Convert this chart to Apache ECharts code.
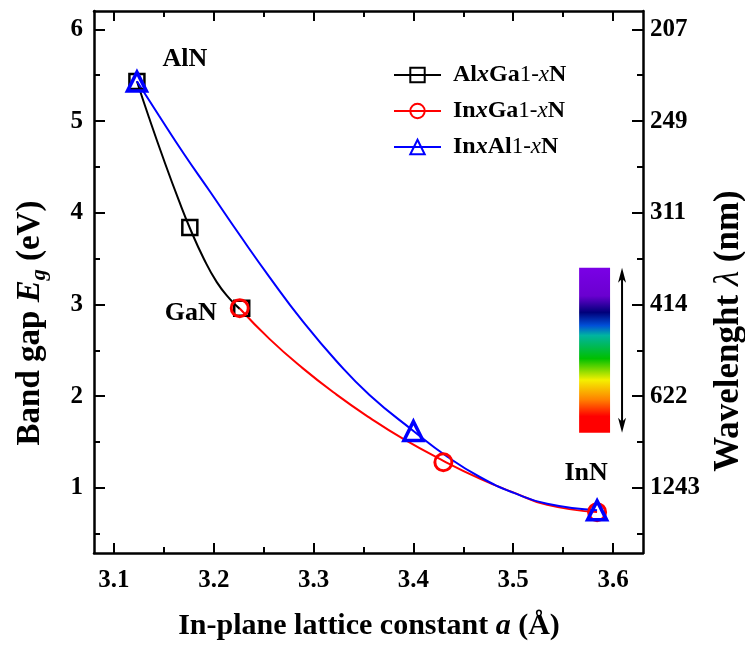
<!DOCTYPE html>
<html><head><meta charset="utf-8">
<script src="https://cdn.jsdelivr.net/npm/echarts@6/dist/echarts.min.js"></script>
<style>html,body{margin:0;padding:0;background:#fff}#c{width:745px;height:646px}</style>
</head><body><div id="c"></div>
<script>
// ---- tick values / labels ----
const xMajorTicks = [3.1, 3.2, 3.3, 3.4, 3.5, 3.6];
const xMinorTicks = [3.15, 3.25, 3.35, 3.45, 3.55];
const yMajorTicks = [1, 2, 3, 4, 5, 6];
const yMinorTicks = [0.5, 1.5, 2.5, 3.5, 4.5, 5.5];
const wavelengthLabels = ['1243', '622', '414', '311', '249', '207'];

// ---- series ----
const seriesNames = ['AlxGa1-xN', 'InxGa1-xN', 'InxAl1-xN'];
const alGaNPoints = [[3.123, 5.43], [3.176, 3.84], [3.228, 2.96]];
const inGaNPoints = [[3.226, 2.96], [3.430, 1.28], [3.584, 0.735]];
const inAlNPoints = [[3.123, 5.43], [3.400, 1.62], [3.584, 0.755]];

const alGaNCurve = [[3.123, 5.434], [3.135, 5.041], [3.150, 4.575], [3.165, 4.134], [3.176, 3.834], [3.190, 3.499], [3.203, 3.244], [3.216, 3.061], [3.226, 2.952]];
const inGaNCurve = [[3.226, 2.956], [3.256, 2.622], [3.289, 2.306], [3.323, 2.017], [3.356, 1.766], [3.389, 1.539], [3.430, 1.295], [3.467, 1.098], [3.500, 0.951], [3.534, 0.815], [3.584, 0.736]];
const inAlNCurve = [[3.123, 5.434], [3.145, 5.060], [3.170, 4.643], [3.196, 4.234], [3.226, 3.757], [3.256, 3.296], [3.289, 2.818], [3.323, 2.381], [3.356, 2.014], [3.400, 1.621], [3.434, 1.340], [3.467, 1.116], [3.500, 0.948], [3.534, 0.826], [3.584, 0.755]];

// ---- material labels ----
const materialNames = ['AlN', 'GaN', 'InN'];
const materialPoints = [[3.123, 5.43], [3.226, 2.96], [3.584, 0.755]];

const FONT = "'Liberation Serif', 'Times New Roman', serif";
const chart = echarts.init(document.getElementById('c'), null, {renderer: 'canvas'});

const legendRich = {
  'AlxGa1-xN': '{b|Al}{bi|x}{b|Ga}{n|1-}{ni|x}{b|N}',
  'InxGa1-xN': '{b|In}{bi|x}{b|Ga}{n|1-}{ni|x}{b|N}',
  'InxAl1-xN': '{b|In}{bi|x}{b|Al}{n|1-}{ni|x}{b|N}'
};

const axisLineStyle = {color: '#000', width: 2.5};
const TICKFS = 25;
function xAxisDef(pos, ticks, len, showLine, showLabel) {
  return {
    type: 'value', position: pos, min: 3.08, max: 3.63,
    axisLine: {show: showLine, lineStyle: axisLineStyle, onZero: false},
    axisTick: {show: true, inside: true, length: len, customValues: ticks, lineStyle: {color: '#000', width: 2}},
    axisLabel: {show: showLabel, customValues: ticks, margin: 15, color: '#000', fontFamily: FONT, fontWeight: 'bold', fontSize: TICKFS,
      formatter: v => v.toFixed(1)},
    splitLine: {show: false}
  };
}
function yAxisDef(pos, ticks, len, showLine, showLabel, fmt, margin) {
  return {
    type: 'value', position: pos, min: 0.29, max: 6.2,
    axisLine: {show: showLine, lineStyle: axisLineStyle, onZero: false},
    axisTick: {show: true, inside: true, length: len, customValues: ticks, lineStyle: {color: '#000', width: 2}},
    axisLabel: {show: showLabel, customValues: ticks, margin: margin, color: '#000', fontFamily: FONT, fontWeight: 'bold', fontSize: TICKFS,
      formatter: fmt},
    splitLine: {show: false}
  };
}

const option = {
  backgroundColor: '#fff',
  animation: false,
  grid: {left: 94, top: 11, right: 102, bottom: 93, containLabel: false},
  xAxis: [
    xAxisDef('bottom', xMajorTicks, 10, true, true),
    xAxisDef('bottom', xMinorTicks, 6, false, false),
    xAxisDef('top', xMajorTicks, 10, true, false),
    xAxisDef('top', xMinorTicks, 6, false, false)
  ],
  yAxis: [
    yAxisDef('left', yMajorTicks, 11, true, true, v => String(Math.round(v)), 11),
    yAxisDef('left', yMinorTicks, 6, false, false, null, 8),
    yAxisDef('right', yMajorTicks, 11, true, true, v => wavelengthLabels[yMajorTicks.indexOf(Math.round(v))], 7),
    yAxisDef('right', yMinorTicks, 6, false, false, null, 8)
  ],
  legend: {
    data: seriesNames, orient: 'vertical', left: 388, top: 58,
    itemWidth: 47, itemHeight: 18, itemGap: 12, selectedMode: false,
    formatter: n => legendRich[n],
    textStyle: {
      color: '#000', fontFamily: FONT, fontSize: 24, fontWeight: 'bold', padding: [0, 0, 0, 7],
      rich: {
        b: {fontFamily: FONT, fontSize: 24, fontWeight: 'bold', color: '#000'},
        bi: {fontFamily: FONT, fontSize: 24, fontWeight: 'bold', fontStyle: 'italic', color: '#000'},
        n: {fontFamily: FONT, fontSize: 23, fontWeight: 'normal', color: '#000'},
        ni: {fontFamily: FONT, fontSize: 23, fontWeight: 'normal', fontStyle: 'italic', color: '#000'}
      }
    }
  },
  series: [
    {name: seriesNames[0], type: 'line', data: alGaNCurve, smooth: 0.5, symbol: 'rect', showSymbol: false,
      lineStyle: {color: '#000', width: 2}, itemStyle: {color: 'rgba(0,0,0,0)', borderColor: '#000', borderWidth: 3}, z: 2},
    {name: seriesNames[1], type: 'line', data: inGaNCurve, smooth: 0.5, symbol: 'circle', showSymbol: false,
      lineStyle: {color: '#ff0000', width: 2}, itemStyle: {color: 'rgba(0,0,0,0)', borderColor: '#ff0000', borderWidth: 3}, z: 2},
    {name: seriesNames[2], type: 'line', data: inAlNCurve, smooth: 0.5, symbol: 'triangle', showSymbol: false,
      lineStyle: {color: '#0000ff', width: 2}, itemStyle: {color: 'rgba(0,0,0,0)', borderColor: '#0000ff', borderWidth: 3}, z: 3},
    {name: 'm1', type: 'scatter', data: alGaNPoints, symbol: 'rect', symbolSize: 15,
      itemStyle: {color: 'rgba(0,0,0,0)', borderColor: '#000', borderWidth: 2.5, opacity: 1}, z: 4},
    {name: 'm2', type: 'scatter', data: inGaNPoints, symbol: 'circle', symbolSize: 17,
      itemStyle: {color: 'rgba(0,0,0,0)', borderColor: '#ff0000', borderWidth: 3, opacity: 1}, z: 5},
    {name: 'm3', type: 'scatter', data: inAlNPoints, symbol: 'triangle', symbolSize: 19,
      itemStyle: {color: 'rgba(0,0,0,0)', borderColor: '#0000ff', borderWidth: 3.5, opacity: 1}, z: 6},
    {name: 'labels', type: 'scatter', symbolSize: 0, silent: true, z: 7,
      itemStyle: {opacity: 1, color: '#000'},
      data: materialNames.map((n, i) => ({name: n, value: materialPoints[i],
        label: {offset: [[48, -22], [-49, 5], [-11, -37]][i]}})),
      label: {show: true, position: 'inside', formatter: '{b}', color: '#000', textBorderWidth: 0,
        fontFamily: FONT, fontWeight: 'bold', fontSize: 26}}
  ]
};
chart.setOption(option);

// ---- decorations: spectrum bar and double arrow ----
const tl = chart.convertToPixel({xAxisIndex: 0, yAxisIndex: 0}, [3.566, 3.40]);
const br = chart.convertToPixel({xAxisIndex: 0, yAxisIndex: 0}, [3.597, 1.60]);
const ax = chart.convertToPixel({xAxisIndex: 0}, 3.609);
chart.setOption({
  graphic: [
    {type: 'rect', shape: {x: tl[0], y: tl[1], width: br[0] - tl[0], height: br[1] - tl[1]},
      style: {fill: new echarts.graphic.LinearGradient(0, 0, 0, 1, [
        {offset: 0, color: '#7a00e6'}, {offset: 0.17, color: '#6a00d0'}, {offset: 0.27, color: '#00007a'},
        {offset: 0.35, color: '#0050d8'}, {offset: 0.41, color: '#00b4a0'}, {offset: 0.55, color: '#00c000'},
        {offset: 0.68, color: '#f4f000'}, {offset: 0.8, color: '#ff8000'}, {offset: 0.9, color: '#ff0000'},
        {offset: 1, color: '#ff0000'}])}, z: 10},
    {type: 'line', shape: {x1: ax, y1: tl[1] + 6, x2: ax, y2: br[1] - 6}, style: {stroke: '#000', lineWidth: 2}, z: 10},
    {type: 'polygon', shape: {points: [[ax, tl[1]], [ax - 4, tl[1] + 15], [ax, tl[1] + 11], [ax + 4, tl[1] + 15]]}, style: {fill: '#000'}, z: 10},
    {type: 'polygon', shape: {points: [[ax, br[1]], [ax - 4, br[1] - 15], [ax, br[1] - 11], [ax + 4, br[1] - 15]]}, style: {fill: '#000'}, z: 10},
    {type: 'text', x: 369, y: 626, z: 10,
      style: {text: '{b|In-plane lattice constant }{i|a}{b| (Å)}', align: 'center', verticalAlign: 'middle',
        rich: {b: {fontFamily: FONT, fontSize: 30, fontWeight: 'bold', fill: '#000'},
               i: {fontFamily: FONT, fontSize: 30, fontWeight: 'bold', fontStyle: 'italic', fill: '#000'}}}},
    {type: 'text', x: 30, y: 323, rotation: Math.PI / 2, z: 10,
      style: {text: '{b|Band gap }{i|E}{s|g}{b| (eV)}', align: 'center', verticalAlign: 'middle',
        rich: {b: {fontFamily: FONT, fontSize: 33, fontWeight: 'bold', fill: '#000', lineHeight: 40},
               i: {fontFamily: FONT, fontSize: 33, fontWeight: 'bold', fontStyle: 'italic', fill: '#000', lineHeight: 40},
               s: {fontFamily: FONT, fontSize: 22, fontWeight: 'bold', fontStyle: 'italic', fill: '#000', verticalAlign: 'bottom', lineHeight: 40}}}},
    {type: 'text', x: 729, y: 331, rotation: Math.PI / 2, z: 10,
      style: {text: '{b|Wavelenght }{i|λ}{b| (nm)}', align: 'center', verticalAlign: 'middle',
        rich: {b: {fontFamily: FONT, fontSize: 35, fontWeight: 'bold', fill: '#000'},
               i: {fontFamily: FONT, fontSize: 35, fontWeight: 'normal', fontStyle: 'italic', fill: '#000'}}}}
  ]
});
</script></body></html>
